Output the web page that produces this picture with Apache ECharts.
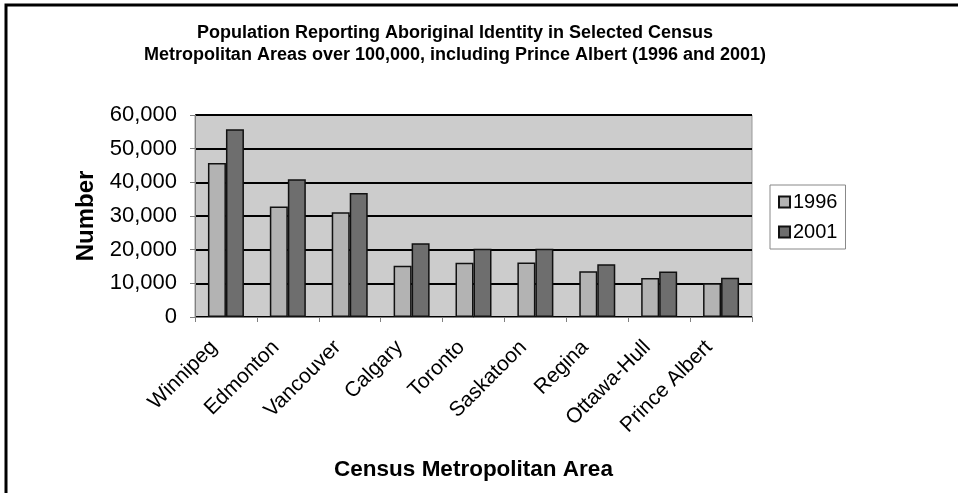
<!DOCTYPE html>
<html>
<head>
<meta charset="utf-8">
<script src="https://cdn.jsdelivr.net/npm/echarts@6/dist/echarts.min.js"></script>
<style>
  html, body { margin: 0; padding: 0; background: #fff; }
  #chart { width: 958px; height: 493px; }
</style>
</head>
<body>
<div id="chart"></div>
<script>
// Census metropolitan areas and Aboriginal identity counts
const areas = ['Winnipeg', 'Edmonton', 'Vancouver', 'Calgary', 'Toronto',
               'Saskatoon', 'Regina', 'Ottawa-Hull', 'Prince Albert'];
const pop1996 = [45750, 32825, 31140, 15195, 16100, 16160, 13605, 11605, 10000];
const pop2001 = [55755, 40930, 36860, 21915, 20300, 20275, 15685, 13485, 11640];
const yTicks = [0, 10000, 20000, 30000, 40000, 50000, 60000];

const FONT = 'Liberation Sans, Arial, sans-serif';
const fmt = v => v.toLocaleString('en-US');

const chart = echarts.init(document.getElementById('chart'), null, { renderer: 'canvas' });

chart.setOption({
  animation: false,
  backgroundColor: '#ffffff',
  title: {
    text: 'Population Reporting Aboriginal Identity in Selected Census\nMetropolitan Areas over 100,000, including Prince Albert (1996 and 2001)',
    left: 450,
    top: 17,
    textAlign: 'center',
    textStyle: { fontFamily: FONT, fontSize: 18, fontWeight: 'bold', color: '#000', lineHeight: 22 }
  },
  graphic: [
    // frame along the top and left edges
    {
      type: 'polyline',
      shape: { points: [[6, 493], [6, 5], [958, 5]] },
      style: { stroke: '#000', lineWidth: 3, fill: null },
      z: 100
    }
  ],
  legend: {
    orient: 'vertical',
    left: 770,
    top: 185,
    padding: [7, 8, 7, 8],
    itemGap: 10,
    itemWidth: 11,
    itemHeight: 11,
    icon: 'rect',
    backgroundColor: '#ffffff',
    borderColor: '#888',
    borderWidth: 1,
    textStyle: { fontFamily: FONT, fontSize: 20, color: '#000', padding: [0, 0, 0, -2] },
    data: ['1996', '2001']
  },
  grid: {
    left: 195, top: 115, right: 206, bottom: 176,
    show: true,
    backgroundColor: '#cccccc',
    borderColor: '#999',
    borderWidth: 1
  },
  xAxis: {
    type: 'category',
    data: areas,
    name: 'Census Metropolitan Area',
    nameLocation: 'middle',
    nameGap: 141,
    nameTextStyle: { fontFamily: FONT, fontSize: 22.5, fontWeight: 'bold', color: '#000' },
    axisLine: { lineStyle: { color: '#808080', width: 1 } },
    axisTick: { show: true, length: 5, lineStyle: { color: '#808080' } },
    axisLabel: {
      rotate: 45,
      interval: 0,
      margin: 15,
      padding: [0, 17, 0, 0],
      fontFamily: FONT, fontSize: 21, color: '#000'
    }
  },
  yAxis: {
    type: 'value',
    min: 0,
    max: 60000,
    interval: 10000,
    name: 'Number',
    nameLocation: 'middle',
    nameGap: 97,
    nameRotate: 90,
    nameTextStyle: { fontFamily: FONT, fontSize: 24, fontWeight: 'bold', color: '#000' },
    axisLine: { show: true, lineStyle: { color: '#808080', width: 1 } },
    axisTick: { show: true, length: 5, lineStyle: { color: '#808080' } },
    axisLabel: {
      margin: 18,
      fontFamily: FONT, fontSize: 22, color: '#000',
      formatter: v => (yTicks.includes(v) ? fmt(v) : '')
    },
    splitLine: { show: true, lineStyle: { color: '#000', width: 2 } }
  },
  series: [
    {
      name: '1996',
      type: 'bar',
      data: pop1996,
      barWidth: 18,
      barGap: '0%',
      itemStyle: { color: '#b3b3b3', borderColor: '#111', borderWidth: 1.5 }
    },
    {
      name: '2001',
      type: 'bar',
      data: pop2001,
      barWidth: 18,
      itemStyle: { color: '#6e6e6e', borderColor: '#111', borderWidth: 1.5 }
    }
  ]
});
</script>
</body>
</html>
